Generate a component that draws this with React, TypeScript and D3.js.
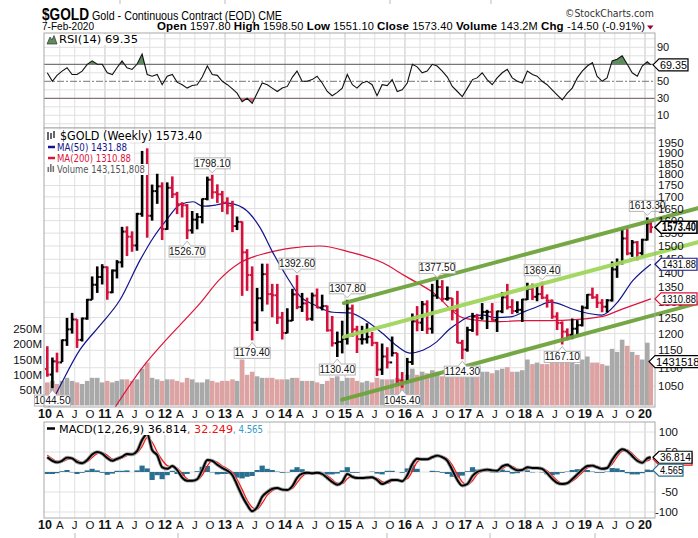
import React from "react";
import * as d3 from "d3";

const openJan2010 = 1096.2;

const highs = [
  1162, 1129, 1143, 1182, 1249, 1265, 1245, 1250, 1311, 1388, 1424, 1432,
  1424, 1413, 1447, 1575, 1577, 1557, 1632, 1911, 1923.7, 1754, 1803, 1764,
  1764, 1791, 1722, 1677, 1669, 1640, 1631, 1693, 1790, 1798.1, 1755, 1726,
  1698, 1683, 1617, 1597, 1488, 1424, 1348, 1434, 1434, 1362, 1362, 1268,
  1280, 1345, 1392.6, 1331, 1315, 1332, 1346, 1325, 1289, 1255, 1206, 1240,
  1307.8, 1292, 1224, 1224, 1232, 1205, 1175, 1170, 1159, 1191, 1142, 1088,
  1128, 1263, 1287, 1304, 1306, 1362, 1377.5, 1375, 1353, 1314, 1338, 1181,
  1221, 1265, 1262, 1297, 1275, 1297, 1272, 1334, 1362, 1310, 1303, 1311,
  1366, 1363, 1356, 1369.4, 1326, 1309, 1267, 1238, 1216, 1247, 1242, 1289,
  1327, 1349, 1327, 1310, 1310, 1442, 1453, 1566, 1566, 1523, 1519, 1528,
  1613.3, 1598.5,
];

const lows = [
  1075, 1044.5, 1087, 1116, 1163, 1200, 1157, 1176, 1243, 1308, 1331, 1360,
  1308, 1330, 1381, 1420, 1462, 1478, 1482, 1616, 1532, 1600, 1670, 1523,
  1563, 1695, 1627, 1613, 1526.7, 1548, 1565, 1589, 1685, 1692, 1674, 1636,
  1626, 1554, 1562, 1321, 1338, 1179.4, 1208, 1270, 1292, 1251, 1230, 1182,
  1201, 1239, 1277, 1268, 1240, 1240, 1280, 1273, 1206, 1161, 1130.4, 1141,
  1167, 1190, 1142, 1167, 1170, 1162, 1077, 1080, 1098, 1132, 1052, 1045.4,
  1062, 1108, 1207, 1208, 1199, 1200, 1311, 1302, 1305, 1241, 1171, 1124.3,
  1146, 1205, 1194, 1243, 1214, 1240, 1205, 1264, 1276, 1261, 1264, 1236,
  1307, 1307, 1303, 1310, 1282, 1246, 1211, 1167.1, 1180, 1183, 1197, 1222,
  1277, 1311, 1281, 1267, 1266, 1302, 1383, 1431, 1465, 1459, 1446, 1461,
  1521, 1551.1,
];

const closes = [
  1081, 1118, 1115, 1180, 1213, 1244, 1181, 1247, 1308, 1359, 1386, 1421,
  1333, 1409, 1439, 1556, 1536, 1502, 1628, 1825, 1620, 1725, 1746, 1566,
  1740, 1711, 1669, 1664, 1561, 1604, 1615, 1691, 1776, 1720, 1711, 1675,
  1663, 1578, 1595, 1476, 1393, 1234, 1313, 1396, 1327, 1323, 1250, 1202,
  1240, 1326, 1284, 1296, 1246, 1322, 1282, 1287, 1210, 1171, 1175, 1184,
  1279, 1213, 1183, 1183, 1190, 1172, 1095, 1132, 1115, 1142, 1065, 1060,
  1116, 1238, 1234, 1293, 1215, 1322, 1351, 1311, 1313, 1272, 1172, 1152,
  1211, 1253, 1249, 1268, 1268, 1242, 1270, 1316, 1284, 1271, 1275, 1309,
  1345, 1318, 1327, 1315, 1305, 1253, 1233, 1206, 1196, 1215, 1226, 1282,
  1325, 1316, 1298, 1285, 1306, 1413, 1437, 1529, 1472, 1514, 1473, 1524,
  1589, 1573.4,
];

// weekly volume level per month, millions
const volumes = [
  75, 80, 70, 80, 90, 80, 75, 70, 80, 90, 90, 75,
  80, 75, 80, 85, 85, 80, 85, 120, 140, 90, 85, 80,
  85, 85, 80, 75, 90, 85, 75, 75, 85, 80, 75, 80,
  80, 85, 80, 150, 100, 110, 95, 90, 90, 90, 85, 85,
  85, 90, 90, 80, 80, 80, 75, 70, 80, 90, 95, 80,
  90, 90, 80, 75, 80, 75, 90, 85, 85, 85, 90, 85,
  100, 120, 100, 110, 105, 115, 110, 95, 95, 110, 125, 100,
  115, 105, 110, 110, 110, 105, 115, 120, 125, 110, 110, 115,
  150, 135, 140, 135, 135, 140, 140, 160, 140, 145, 135, 150,
  160, 140, 140, 135, 130, 185, 175, 215, 195, 175, 165, 150,
  205, 143.15,
];

const rsiValues = [
  60, 50, 57, 62, 66, 58, 58, 62, 70, 74, 70, 70,
  60, 58, 66, 74, 66, 64, 70, 82, 58, 56, 58, 46,
  56, 58, 49, 46, 42, 45, 46, 55, 68, 58, 57, 50,
  46, 41, 36, 26, 30, 24, 36, 48, 46, 42, 38, 42,
  44, 55, 62, 50, 50, 52, 56, 48, 38, 33, 37, 42,
  58, 46, 42, 48, 50, 46, 33, 46, 45, 52, 38, 40,
  48, 70, 67, 60, 62, 70, 68, 62, 55, 44, 38, 32,
  42, 52, 54, 60, 52, 46, 54, 60, 64, 54, 50, 48,
  62, 58, 56, 50, 46, 40, 34, 28, 36, 42, 54, 62,
  68, 72, 56, 50, 54, 74, 76, 80, 70, 60, 56, 68,
  73, 69.35,
];

const macdValues = [
  37, 28, 24, 28, 36, 34, 25, 22, 30, 44, 50, 46,
  35, 28, 33, 38, 45, 44, 52, 80, 95, 55, 42, 12,
  8, 15, 5, -14, -22, -22, -18, 5, 30, 28, 18, 10,
  3, -8, -32, -60, -82, -98, -88, -62, -50, -42, -40, -44,
  -45, -35, -15, -4, -2, -3, -2, -5, -15, -25, -32, -25,
  -5, -12, -15, -15, -14, -13, -20, -30, -25, -20, -20, -23,
  -8, 20, 33, 32, 32, 37, 41, 37, 28, 5, -20, -34,
  -30, -10, 0, 4, 6, 4, 3, 14, 18, 10, 4, 5,
  12, 10, 10, 8, -3, -17, -27, -30, -28, -18, -6, 6,
  15, 16, 12, 8, 10, 30, 47, 57, 52, 40, 28, 23,
  34, 36.814,
];

const signalValues = [
  42, 33, 27, 26, 31, 35, 30, 24, 26, 36, 46, 48,
  42, 32, 30, 35, 41, 44, 48, 64, 86, 75, 50, 30,
  16, 12, 10, -4, -17, -22, -20, -8, 15, 29, 24, 15,
  8, -1, -18, -44, -70, -88, -93, -78, -58, -47, -41, -42,
  -44, -41, -27, -11, -4, -3, -3, -4, -9, -19, -28, -29,
  -17, -10, -13, -15, -14, -14, -16, -24, -28, -23, -20, -21,
  -17, 2, 25, 32, 32, 34, 39, 39, 33, 17, -6, -25,
  -32, -22, -6, 2, 5, 5, 4, 8, 15, 14, 7, 5,
  8, 11, 10, 9, 3, -9, -21, -28, -29, -23, -13, -1,
  10, 15, 14, 10, 9, 20, 38, 52, 55, 46, 34, 26,
  28, 32.249,
];

// moving averages: [decimal year, value]
const ma50 = [
  [2010.05, 990], [2010.22, 1040], [2010.58, 1151], [2010.92, 1226], [2011.25, 1307],
  [2011.58, 1445], [2011.8, 1530], [2012.03, 1604], [2012.25, 1666], [2012.47, 1679],
  [2012.63, 1660], [2012.85, 1665], [2013.03, 1673], [2013.3, 1653], [2013.58, 1573],
  [2013.8, 1474], [2014.03, 1387], [2014.25, 1320], [2014.5, 1290], [2014.8, 1267],
  [2015.08, 1265], [2015.35, 1240], [2015.63, 1200], [2015.85, 1165], [2016.08, 1142],
  [2016.3, 1150], [2016.53, 1175], [2016.75, 1215], [2016.92, 1237], [2017.1, 1255],
  [2017.3, 1258], [2017.5, 1250], [2017.75, 1252], [2018.0, 1270], [2018.2, 1285],
  [2018.42, 1300], [2018.53, 1297], [2018.75, 1280], [2018.97, 1267], [2019.28, 1258],
  [2019.53, 1297], [2019.8, 1374], [2020.1, 1431.88],
];

const ma200 = [
  [2011.17, 995], [2011.63, 1102], [2011.97, 1171], [2012.33, 1242], [2012.58, 1295],
  [2012.9, 1375], [2013.25, 1437], [2013.7, 1474], [2014.1, 1492], [2014.58, 1500],
  [2015.08, 1477], [2015.63, 1437], [2016.0, 1390], [2016.47, 1332], [2016.97, 1249],
  [2017.53, 1237], [2018.0, 1240], [2018.42, 1240], [2019.25, 1252], [2019.63, 1278],
  [2020.1, 1310.88],
];

// price channel drawn on the chart: [decimal year, price] endpoints
const channelLines = [
  { from: [2014.98, 1297], to: [2020.883, 1652], color: "#6ea43c" },
  { from: [2014.98, 1190], to: [2020.883, 1515], color: "#9fd65a" },
  { from: [2014.95, 1014], to: [2020.883, 1297], color: "#6ea43c" },
];

const peakLabels = [
  { month: "2010-02", price: 1044.5, side: "low" },
  { month: "2012-10", price: 1798.1, side: "high" },
  { month: "2012-05", price: 1526.7, side: "low" },
  { month: "2014-03", price: 1392.6, side: "high" },
  { month: "2013-06", price: 1179.4, side: "low" },
  { month: "2015-01", price: 1307.8, side: "high" },
  { month: "2014-11", price: 1130.4, side: "low" },
  { month: "2015-12", price: 1045.4, side: "low" },
  { month: "2016-07", price: 1377.5, side: "high" },
  { month: "2016-12", price: 1124.3, side: "low" },
  { month: "2018-04", price: 1369.4, side: "high" },
  { month: "2018-08", price: 1167.1, side: "low" },
  { month: "2020-01", price: 1613.3, side: "high" },
];

const priceTicks = [1050, 1100, 1150, 1200, 1250, 1300, 1350, 1400, 1450, 1500, 1550, 1600, 1650, 1700, 1750, 1800, 1850, 1900, 1950];
const priceGrid = [1000, 1050, 1100, 1150, 1200, 1250, 1300, 1350, 1400, 1450, 1500, 1550, 1600, 1650, 1700, 1750, 1800, 1850, 1900, 1950, 2000];
const volumeTicks = [50, 100, 150, 200, 250];
const rsiTicks = [90, 70, 50, 30, 10];
const rsiGrid = [100, 90, 80, 60, 40, 20, 10, 0];
const macdTicks = [100, 50, 0, -50, -100];
const yearLabels = ["10", "11", "12", "13", "14", "15", "16", "17", "18", "19", "20"];
const quarterLetters = ["A", "J", "O"];

const W = 698;
const H = 538;
const L = 44;
const R = 655;
const rsiTop = 33;
const mainTop = 128;
const mainBottom = 407;
const macdTop = 422;
const macdBottom = 518;

const FONT = "'Liberation Sans', Arial, sans-serif";
const LFONT = "'DejaVu Sans', Verdana, sans-serif";

const monthDate = (i: number) => (i === closes.length - 1 ? new Date(2020, 1, 5) : new Date(2010, i, 15));
const decDate = (t: number) => {
  const y = Math.floor(t);
  return new Date(y, 0, 1 + Math.round((t - y) * 365));
};
const monthIndex = (s: string) => {
  const [y, m] = s.split("-").map(Number);
  return (y - 2010) * 12 + (m - 1);
};

const x = d3.scaleTime().domain([new Date(2010, 0, 1), new Date(2020, 0, 1)]).range([45, 645]);
const yPrice = d3.scaleLog().domain([1050, 1950]).range([386, 143]);
const yVol = d3.scaleLinear().domain([0, 250]).range([405.3, 329]);
const yRsi = d3.scaleLinear().domain([30, 70]).range([98.3, 64.3]);
const yMacd = d3.scaleLinear().domain([-100, 100]).range([512, 432]);

const quarterLines = d3.timeMonth.every(3)!.range(new Date(2010, 3, 1), new Date(2020, 1, 1));

const ValueBox = ({ y, text, color, bold, x0 = R, x1 = 697, len, fill = "#000" }: any) => (
  <g>
    <path
      d={`M${x0},${y} L${x0 + 6},${y - 6} L${x1},${y - 6} L${x1},${y + 6} L${x0 + 6},${y + 6} Z`}
      fill="#fff"
      stroke={color}
      strokeWidth={bold ? 1.6 : 1.2}
    />
    {text && (
      <text
        x={x0 + 7}
        y={y + 4.2}
        fontFamily={FONT}
        fontSize={bold ? 12 : 11.5}
        fontWeight={bold ? "bold" : "normal"}
        fill={fill}
        textLength={len}
        lengthAdjust="spacingAndGlyphs"
      >
        {text}
      </text>
    )}
  </g>
);

const App = () => {
  const vGrid = (top: number, bottom: number) =>
    quarterLines.map((d, i) => (
      <line key={i} x1={x(d)} x2={x(d)} y1={top} y2={bottom} stroke={d.getMonth() === 0 ? "#c4c4c4" : "#e0e0e0"} strokeWidth={1} />
    ));

  const maPath = d3
    .line<number[]>()
    .x((d) => x(decDate(d[0])))
    .y((d) => yPrice(d[1]))
    .curve(d3.curveMonotoneX);

  const rsiLine = d3
    .line<number>()
    .x((_, i) => x(monthDate(i)))
    .y((d) => yRsi(d));
  const rsiArea = (base: number) =>
    d3
      .area<number>()
      .x((_, i) => x(monthDate(i)))
      .y0(yRsi(base))
      .y1((d) => yRsi(d));

  const macdPath = d3
    .line<number>()
    .x((_, i) => x(monthDate(i)))
    .y((d) => yMacd(d))
    .curve(d3.curveMonotoneX);

  const axisLabels = (baseline: number) => (
    <g fontFamily={FONT} fill="#111" textAnchor="middle">
      {yearLabels.map((lab) => (
        <text key={lab} x={x(new Date(2000 + Number(lab), 0, 1))} y={baseline} fontSize={12.5} fontWeight="bold">
          {lab}
        </text>
      ))}
      {yearLabels.slice(0, -1).map((lab) =>
        quarterLetters.map((q, k) => (
          <text key={lab + q} x={x(new Date(2000 + Number(lab), 3 + k * 3, 1))} y={baseline} fontSize={11.5}>
            {q}
          </text>
        ))
      )}
    </g>
  );

  return (
    <svg width={W} height={H} viewBox={`0 0 ${W} ${H}`} style={{ position: "absolute", left: 0, top: 0, background: "#fff" }}>
      <defs>
        <clipPath id="clipRsi">
          <rect x={L} y={rsiTop} width={R - L} height={mainTop - rsiTop} />
        </clipPath>
        <clipPath id="clipOver">
          <rect x={L} y={rsiTop} width={R - L} height={yRsi(70) - rsiTop} />
        </clipPath>
        <clipPath id="clipUnder">
          <rect x={L} y={yRsi(30)} width={R - L} height={mainTop - yRsi(30)} />
        </clipPath>
        <clipPath id="clipMain">
          <rect x={L} y={mainTop} width={R - L} height={mainBottom - mainTop} />
        </clipPath>
        <clipPath id="clipMacd">
          <rect x={L} y={macdTop} width={R - L} height={macdBottom - macdTop} />
        </clipPath>
      </defs>

      {/* stray ticks of neighbouring charts */}
      {[120, 225, 390, 491].map((t) => (
        <line key={"t" + t} x1={t} x2={t} y1={0} y2={4} stroke="#bbb" />
      ))}
      {[75, 178, 387, 490, 595].map((t) => (
        <line key={"b" + t} x1={t} x2={t} y1={533} y2={538} stroke="#bbb" />
      ))}

      {/* header */}
      <text x={42} y={20} fontFamily={FONT} fontSize={17} fontWeight="bold" textLength={47} lengthAdjust="spacingAndGlyphs">
        $GOLD
      </text>
      <text x={92} y={19.5} fontFamily={FONT} fontSize={12.5} textLength={190} lengthAdjust="spacingAndGlyphs">
        Gold - Continuous Contract (EOD) CME
      </text>
      <text x={565} y={17} fontFamily={LFONT} fontSize={10.5} fill="#333" textLength={89} lengthAdjust="spacingAndGlyphs">
        ©StockCharts.com
      </text>
      <text x={42} y={29.5} fontFamily={FONT} fontSize={11} textLength={52} lengthAdjust="spacingAndGlyphs">
        7-Feb-2020
      </text>
      <text x={157} y={29.5} fontFamily={FONT} fontSize={11} fill="#000" textLength={488} lengthAdjust="spacing">
        <tspan fontWeight="bold" fontSize={11.5}>Open</tspan> 1597.80{" "}
        <tspan fontWeight="bold" fontSize={11.5}>High</tspan> 1598.50{" "}
        <tspan fontWeight="bold" fontSize={11.5}>Low</tspan> 1551.10{" "}
        <tspan fontWeight="bold" fontSize={11.5}>Close</tspan> 1573.40{" "}
        <tspan fontWeight="bold" fontSize={11.5}>Volume</tspan> 143.2M{" "}
        <tspan fontWeight="bold" fontSize={11.5}>Chg</tspan> -14.50 (-0.91%)
      </text>
      <path d="M647,25.5 L653.5,25.5 L650.25,29.5 Z" fill="#990033" />

      {/* ---------- RSI panel ---------- */}
      <rect x={L} y={rsiTop} width={R - L} height={mainTop - rsiTop} fill="#fff" />
      <g clipPath="url(#clipRsi)">
        {vGrid(rsiTop, mainTop)}
        {rsiGrid.map((v) => (
          <line key={v} x1={L} x2={R} y1={yRsi(v)} y2={yRsi(v)} stroke="#e0e0e0" />
        ))}
        <line x1={L} x2={R} y1={yRsi(70)} y2={yRsi(70)} stroke="#777" strokeWidth={1.2} />
        <line x1={L} x2={R} y1={yRsi(30)} y2={yRsi(30)} stroke="#777" strokeWidth={1.2} />
        <line x1={L} x2={R} y1={yRsi(50)} y2={yRsi(50)} stroke="#777" strokeWidth={1} strokeDasharray="7,2,2,2" />
        <path d={rsiArea(70)(rsiValues)!} fill="#5e8c5e" clipPath="url(#clipOver)" />
        <path d={rsiArea(30)(rsiValues)!} fill="#d57082" clipPath="url(#clipUnder)" />
        <path d={rsiLine(rsiValues)!} fill="none" stroke="#111" strokeWidth={1.1} />
      </g>
      <rect x={L} y={rsiTop} width={R - L} height={mainTop - rsiTop} fill="none" stroke="#a8a8a8" />
      <rect x={L + 1} y={rsiTop + 1} width={95} height={11} fill="#fff" />
      <path d="M47,44 L50,37 L52,40 L54,35.5 L57,44 Z" fill="#5e8c5e" stroke="#333" strokeWidth={0.7} />
      <text x={59} y={43} fontFamily={LFONT} fontSize={10.5} textLength={79} lengthAdjust="spacingAndGlyphs">
        RSI(14) 69.35
      </text>
      <g fontFamily={FONT} fontSize={11} fill="#111">
        {rsiTicks.map((v) => (
          <text key={v} x={657} y={yRsi(v) + 4}>
            {v}
          </text>
        ))}
      </g>
      <ValueBox y={yRsi(69.35)} text="69.35" color="#000" x0={653} x1={688} len={27} />

      {/* ---------- price panel ---------- */}
      <rect x={L} y={mainTop} width={R - L} height={mainBottom - mainTop} fill="#fff" />
      <g clipPath="url(#clipMain)">
        {vGrid(mainTop, mainBottom)}
        {priceGrid.map((v) => (
          <line key={v} x1={L} x2={R} y1={yPrice(v)} y2={yPrice(v)} stroke="#e0e0e0" />
        ))}
        {volumes.map((v, i) => {
          const prev = i === 0 ? openJan2010 : closes[i - 1];
          const up = closes[i] >= prev;
          const cx = x(monthDate(i));
          return (
            <rect
              key={i}
              x={cx - 2.3}
              width={4.6}
              y={yVol(v)}
              height={yVol(0) - yVol(v)}
              fill={up ? "#a9a9a9" : "#dda3a3"}
            />
          );
        })}
        <path d={maPath(ma200)!} fill="none" stroke="#dc143c" strokeWidth={1.2} />
        <path d={maPath(ma50)!} fill="none" stroke="#14148c" strokeWidth={1.2} />
        {closes.map((c, i) => {
          const o = i === 0 ? openJan2010 : closes[i - 1];
          const up = c >= o;
          const cx = x(monthDate(i));
          return (
            <g key={i} stroke={up ? "#000" : "#d4103c"} strokeWidth={2.6}>
              <line x1={cx} x2={cx} y1={yPrice(highs[i])} y2={yPrice(lows[i])} />
              <line x1={cx - 2.4} x2={cx} y1={yPrice(o)} y2={yPrice(o)} strokeWidth={2} />
              <line x1={cx} x2={cx + 2.4} y1={yPrice(c)} y2={yPrice(c)} strokeWidth={2} />
            </g>
          );
        })}
      </g>
      {channelLines.map((c, i) => (
        <line
          key={i}
          x1={x(decDate(c.from[0]))}
          y1={yPrice(c.from[1])}
          x2={x(decDate(c.to[0]))}
          y2={yPrice(c.to[1])}
          stroke={c.color}
          strokeWidth={4}
          strokeLinecap="round"
          opacity={0.95}
        />
      ))}
      {peakLabels.map((p) => {
        const cx = x(monthDate(monthIndex(p.month)));
        const py = yPrice(p.price);
        const high = p.side === "high";
        const by = high ? py - 17 : py + 7;
        const tip = high ? py - 2 : py + 2;
        const notch = high ? by + 11 : by;
        return (
          <g key={p.month}>
            <rect x={cx - 18} y={by} width={36} height={11} fill="#fff" stroke="#b5b5b5" />
            <path
              d={`M${cx - 4},${notch} L${cx},${tip} L${cx + 4},${notch}`}
              fill="#fff"
              stroke="#b5b5b5"
            />
            <line x1={cx - 3.3} x2={cx + 3.3} y1={notch} y2={notch} stroke="#fff" strokeWidth={1.4} />
            <text x={cx} y={by + 9} textAnchor="middle" fontFamily={FONT} fontSize={10} fill="#111">
              {p.price.toFixed(2)}
            </text>
          </g>
        );
      })}
      <rect x={L} y={mainTop} width={R - L} height={mainBottom - mainTop} fill="none" stroke="#a8a8a8" />

      {/* legend */}
      <rect x={L + 1} y={mainTop + 2} width={160} height={12} fill="#fff" />
      <rect x={L + 1} y={mainTop + 14} width={85} height={11} fill="#fff" />
      <rect x={L + 1} y={mainTop + 25} width={89} height={11} fill="#fff" />
      <rect x={L + 1} y={mainTop + 36} width={103} height={11} fill="#fff" />
      <g stroke="#000" strokeWidth={1.2}>
        <line x1={48} x2={48} y1={132} y2={140} />
        <line x1={51} x2={51} y1={133} y2={139} />
        <line x1={54} x2={54} y1={131} y2={138} />
      </g>
      <text x={60} y={139.5} fontFamily={LFONT} fontSize={11.5} textLength={142} lengthAdjust="spacingAndGlyphs">
        $GOLD (Weekly) 1573.40
      </text>
      <line x1={48} x2={55} y1={147} y2={147} stroke="#14148c" strokeWidth={2.5} />
      <text x={57} y={150.5} fontFamily={LFONT} fontSize={10} fill="#14148c" textLength={70} lengthAdjust="spacingAndGlyphs">
        MA(50) 1431.88
      </text>
      <line x1={48} x2={55} y1={158} y2={158} stroke="#dc143c" strokeWidth={2.5} />
      <text x={57} y={161.5} fontFamily={LFONT} fontSize={10} fill="#dc143c" textLength={74} lengthAdjust="spacingAndGlyphs">
        MA(200) 1310.88
      </text>
      <g fill="#777">
        <rect x={47.5} y={167} width={1.6} height={5} />
        <rect x={50} y={164} width={1.6} height={8} />
        <rect x={52.5} y={166} width={1.6} height={6} />
      </g>
      <text x={57} y={172.5} fontFamily={LFONT} fontSize={10} fill="#555" textLength={88} lengthAdjust="spacingAndGlyphs">
        Volume 143,151,808
      </text>

      <g fontFamily={FONT} fontSize={11.5} fill="#111">
        {priceTicks.map((v) => (
          <text key={v} x={658} y={yPrice(v) + 4}>
            {v}
          </text>
        ))}
        {volumeTicks.map((v) => (
          <text key={v} x={42} y={yVol(v) + 4} textAnchor="end">
            {v}M
          </text>
        ))}
      </g>
      <ValueBox y={yPrice(1573.4)} text="1573.40" color="#000" bold len={34} />
      <ValueBox y={yPrice(1431.88)} text="1431.88" color="#14148c" len={34} />
      <ValueBox y={yPrice(1310.88)} text="1310.88" color="#dc143c" len={34} />
      <ValueBox y={yVol(143.15)} text="143151808" color="#000" x0={649} x1={710} len={56} />

      {axisLabels(418)}

      {/* ---------- MACD panel ---------- */}
      <rect x={L} y={macdTop} width={R - L} height={macdBottom - macdTop} fill="#fff" />
      <g clipPath="url(#clipMacd)">
        {vGrid(macdTop, macdBottom)}
        {macdTicks.map((v) => (
          <line key={v} x1={L} x2={R} y1={yMacd(v)} y2={yMacd(v)} stroke="#e0e0e0" />
        ))}
        {macdValues.map((m, i) => {
          const h = m - signalValues[i];
          const cx = x(monthDate(i));
          return (
            <rect
              key={i}
              x={cx - 2.6}
              width={5.2}
              y={Math.min(yMacd(h), yMacd(0))}
              height={Math.abs(yMacd(h) - yMacd(0))}
              fill="#2a6f90"
            />
          );
        })}
        <path d={macdPath(signalValues)!} fill="none" stroke="#ff1a1a" strokeWidth={1.3} />
        <path d={macdPath(macdValues)!} fill="none" stroke="#9a9a9a" strokeWidth={3.6} />
        <path d={macdPath(macdValues)!} fill="none" stroke="#000" strokeWidth={1.9} />
      </g>
      <rect x={L} y={macdTop} width={R - L} height={macdBottom - macdTop} fill="none" stroke="#a8a8a8" />
      <rect x={L + 1} y={macdTop + 1} width={222} height={12} fill="#fff" />
      <line x1={47} x2={55} y1={428.5} y2={428.5} stroke="#000" strokeWidth={2.5} />
      <text x={59} y={432.5} fontFamily={LFONT} fontSize={11}>
        <tspan textLength={128} lengthAdjust="spacingAndGlyphs">MACD(12,26,9) 36.814</tspan>
        <tspan fill="#ee1111" textLength={46} lengthAdjust="spacingAndGlyphs">, 32.249</tspan>
        <tspan fill="#3399cc" textLength={30} lengthAdjust="spacingAndGlyphs">, 4.565</tspan>
      </text>
      <g fontFamily={FONT} fontSize={11.5} fill="#111" textAnchor="end">
        {macdTicks.map((v) => (
          <text key={v} x={678} y={yMacd(v) + 4}>
            {v}
          </text>
        ))}
      </g>
      <ValueBox y={yMacd(32.249)} text="" color="#ee1111" x0={653} x1={692} />
      <ValueBox y={yMacd(36.814)} text="36.814" color="#000" x0={653} x1={692} len={31} />
      <ValueBox y={yMacd(4.565)} text="4.565" color="#2a6f90" x0={653} x1={683} len={23} />

      {axisLabels(528.5)}
    </svg>
  );
};

export default App;
